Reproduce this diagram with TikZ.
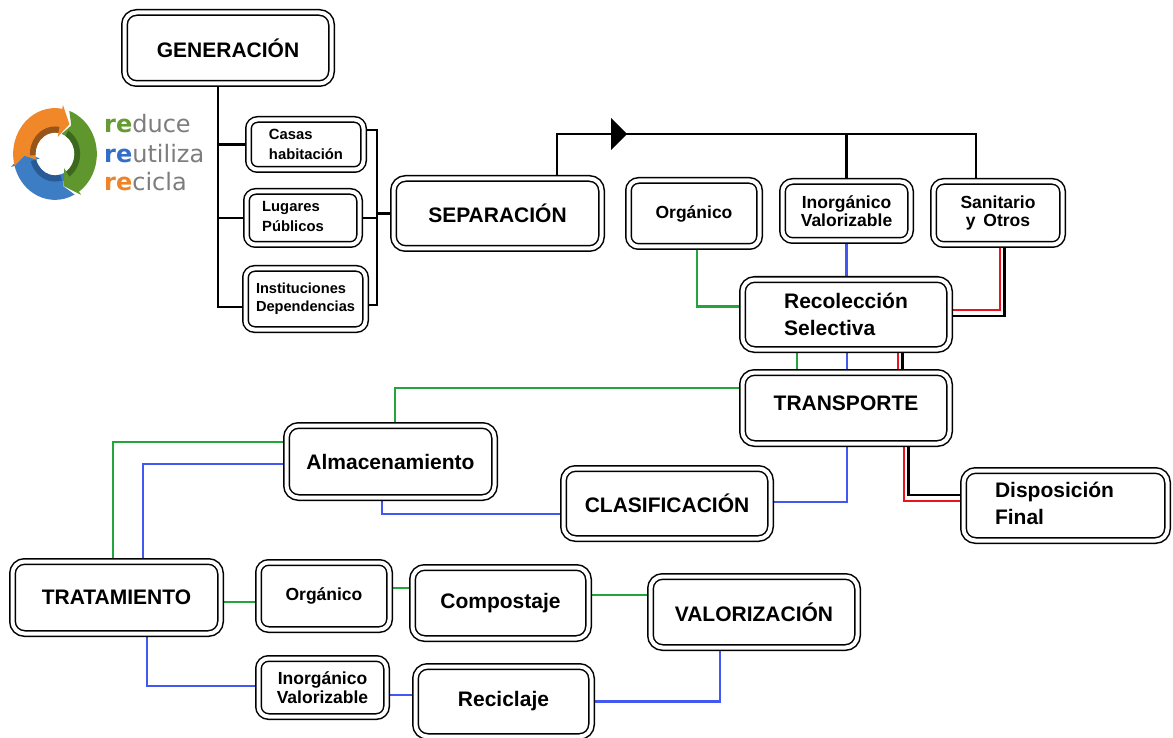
\documentclass[tikz,border=0pt]{standalone}
\usepackage{fontspec}
\setmainfont{Liberation Sans}
\newfontfamily\logofont{DejaVu Sans}
\usetikzlibrary{calc,backgrounds}
\definecolor{gcol}{RGB}{34,165,60}
\definecolor{bcol}{RGB}{66,88,240}
\definecolor{rcol}{RGB}{232,20,30}
\definecolor{lorange}{RGB}{240,135,40}
\definecolor{lorangedk}{RGB}{150,85,25}
\definecolor{lgreen}{RGB}{95,150,45}
\definecolor{lgreendk}{RGB}{60,105,30}
\definecolor{lblue}{RGB}{60,125,195}
\definecolor{lbluedk}{RGB}{40,90,150}
\definecolor{tgreen}{RGB}{100,155,50}
\definecolor{tblue}{RGB}{50,110,200}
\definecolor{torange}{RGB}{240,130,40}
\definecolor{lgray}{RGB}{125,125,125}
\newcommand\LogoSeg[5]{%
  \fill[#3] (#1:45) arc[start angle=#1, end angle=#2, radius=45] -- (#2:49) -- ({#2-#5}:33) -- (#2:17) -- (#2:21) arc[start angle=#2, end angle=#1, radius=21] -- ({#1-12}:33) -- cycle;
  \fill[#4] ({#1-12}:21) arc[start angle={#1-12}, end angle=#2, radius=21] -- (#2:27) arc[start angle=#2, end angle={#1-12}, radius=27] -- cycle;
}
\begin{document}
\begin{tikzpicture}[x=1pt,y=-1pt,
  box/.style={draw=black, fill=white, double=white, double distance=4pt, line width=1.5pt,
    rounded corners=12pt, inner sep=0pt, align=center, font=\bfseries\fontsize{21}{27}\selectfont},
  midbox/.style={box, rounded corners=10pt, font=\bfseries\fontsize{17.5}{18.5}\selectfont},
  smallbox/.style={box, rounded corners=9pt, font=\bfseries\fontsize{14.8}{20}\selectfont},
  conn/.style={line width=2.8pt, black},
  gl/.style={line width=2.5pt, gcol},
  bl/.style={line width=2.5pt, bcol},
  rl/.style={line width=2.5pt, rcol},
  logotext/.style={anchor=base west, inner sep=0pt, text=lgray, font=\logofont\fontsize{24}{29}\selectfont}
]
\useasboundingbox (0,0) rectangle (1173,738);

% ---------- boxes ----------
\node[box, minimum width=207pt, minimum height=71pt] (gen) at (228,48) {GENERACIÓN};
\node[smallbox, align=left, minimum width=115pt, minimum height=50pt] (casas) at (306,144.5) {Casas\\habitación};
\node[smallbox, minimum width=113pt, minimum height=53pt] (lug) at (303,218)
  {\begin{tabular}{@{}l@{\hspace{20pt}}}Lugares\\Públicos\end{tabular}};
\node[smallbox, align=left, font=\bfseries\fontsize{14.6}{18}\selectfont, minimum width=120pt, minimum height=61pt] (inst) at (305.5,299) {Instituciones\\Dependencias};
\node[box, minimum width=208pt, minimum height=70pt] (sep) at (497.5,213.5) {SEPARACIÓN};
\node[midbox, minimum width=131pt, minimum height=66pt] (org) at (694,213.5) {Orgánico};
\node[midbox, minimum width=128pt, minimum height=59pt] (inorg) at (846.5,211) {Inorgánico\\Valorizable};
\node[midbox, minimum width=129pt, minimum height=63pt] (san) at (998,213) {Sanitario\\y\hspace{0.45em}Otros};
\node[box, align=left, minimum width=207pt, minimum height=70pt] (rec) at (846,314.5) {Recolección\\Selectiva};
\node[box, minimum width=207pt, minimum height=71pt] (trans) at (846,408) {\raisebox{5pt}[\height][\depth]{TRANSPORTE}};
\node[box, minimum width=208pt, minimum height=72pt] (alm) at (390.5,461.5) {Almacenamiento};
\node[box, minimum width=207pt, minimum height=70pt] (clas) at (667,503.5) {CLASIFICACIÓN};
\node[box, minimum width=204pt, minimum height=70pt] (disp) at (1065.5,505.5)
  {\begin{tabular}{@{}l@{\hspace{22pt}}}Disposición\\Final\end{tabular}};
\node[box, minimum width=208pt, minimum height=72pt] (trat) at (116.5,597.5) {TRATAMIENTO};
\node[midbox, minimum width=131pt, minimum height=67pt] (org2) at (324,596) {Orgánico};
\node[box, minimum width=176pt, minimum height=71pt] (comp) at (500.5,603) {Compostaje};
\node[box, minimum width=207pt, minimum height=71pt] (val) at (754,612) {VALORIZACIÓN};
\node[midbox, minimum width=128pt, minimum height=58pt] (inorg2) at (322.5,687.5) {Inorgánico\\Valorizable};
\node[box, minimum width=176pt, minimum height=70pt] (recic) at (503.5,701.5) {Reciclaje};

% ---------- logo ----------
\begin{scope}[shift={(55,154)}, yscale=-1.02, xscale=0.93]
  \LogoSeg{70}{-55}{lgreen}{lgreendk}{18}
  \LogoSeg{-62}{-165}{lblue}{lbluedk}{18}
  \LogoSeg{195}{80}{lorange}{lorangedk}{18}
\end{scope}
\node[logotext] (lg1) at (104,133) {{\bfseries\color{tgreen}re}duce};
\node[logotext] (lg2) at (104,163) {{\bfseries\color{tblue}re}utiliza};
\node[logotext] (lg3) at (104,191) {{\bfseries\color{torange}re}cicla};

% ---------- connectors ----------
\begin{scope}[on background layer]
  \fill[white] (0,0) rectangle (1173,738);
  % generation tree
  \coordinate (tk) at (218,307);
  \draw[conn] (gen.south -| tk) -- (tk) -- (inst.west |- tk);
  \draw[conn] (tk |- casas.west) -- (casas.west);
  \draw[conn] (tk |- lug.west) -- (lug.west);
  \coordinate (bt) at (377,130);
  \coordinate (bb) at (377,305);
  \draw[conn] (casas.east |- bt) -- (bt) -- (bb) -- (inst.east |- bb);
  \draw[conn] (lug.east) -- (lug.east -| bt);
  \draw[conn] (sep.west -| bt) -- (sep.west);
  % separation bar
  \coordinate (tl) at (557,134);
  \coordinate (tr) at (976,134);
  \draw[conn] (sep.north -| tl) -- (tl) -- (tr) -- (san.north -| tr);
  \draw[conn] ($(org.north)+(3,0)$) -- ($(org.north)+(3,0)$ |- tl);
  \draw[conn] (inorg.north) -- (inorg.north |- tl);
  \fill[black] ($(tl)+(54,-16)$) -- ++(16,16) -- ++(-16,16) -- cycle;
  % to recoleccion
  \draw[gl] ($(org.south)+(3,0)$) |- ($(rec.west)+(0,-8)$);
  \draw[bl] (inorg.south) -- (inorg.south |- rec.north);
  \draw[rl] ($(san.south)+(2,0)$) |- ($(rec.east)+(0,-4.5)$);
  \draw[conn] ($(san.south)+(6.5,0)$) |- ($(rec.east)+(0,1.5)$);
  % recoleccion to transporte
  \draw[gl] ($(rec.south)+(-49,0)$) -- ($(trans.north)+(-49,0)$);
  \draw[bl] ($(rec.south)+(1,0)$) -- ($(trans.north)+(1,0)$);
  \draw[rl] ($(rec.south)+(52,0)$) -- ($(trans.north)+(52,0)$);
  \draw[conn] ($(rec.south)+(56.5,0)$) -- ($(trans.north)+(56.5,0)$);
  % transporte to almacenamiento / clasificacion / disposicion
  \draw[gl] ($(trans.west)+(0,-20)$) -| ($(alm.north)+(4.5,0)$);
  \draw[bl] ($(trans.south)+(1,0)$) |- ($(clas.east)+(0,-1.5)$);
  \draw[bl] ($(clas.west)+(0,10.5)$) -| ($(alm.south)+(-8.5,0)$);
  \draw[rl] ($(trans.south)+(58,0)$) |- ($(disp.west)+(0,-4.5)$);
  \draw[conn] ($(trans.south)+(62.5,0)$) |- ($(disp.west)+(0,-10.5)$);
  % almacenamiento to tratamiento
  \draw[gl] ($(alm.west)+(0,-19.5)$) -| ($(trat.north)+(-3.5,0)$);
  \draw[bl] ($(alm.west)+(0,2.5)$) -| ($(trat.north)+(26.5,0)$);
  % tratamiento branches
  \draw[gl] ($(trat.east)+(0,4.5)$) -- ($(org2.west)+(0,6)$);
  \draw[gl] ($(org2.east)+(0,-8)$) -- ($(comp.west)+(0,-15)$);
  \draw[gl] ($(comp.east)+(0,-8)$) -- ($(val.west)+(0,-17)$);
  \draw[bl] ($(trat.south)+(30.5,0)$) |- ($(inorg2.west)+(0,-1.5)$);
  \draw[bl] ($(inorg2.east)+(0,7.5)$) -- ($(recic.west)+(0,-6.5)$);
  \draw[bl] (recic.east) -| ($(val.south)+(-34,0)$);
\end{scope}
\end{tikzpicture}
\end{document}
